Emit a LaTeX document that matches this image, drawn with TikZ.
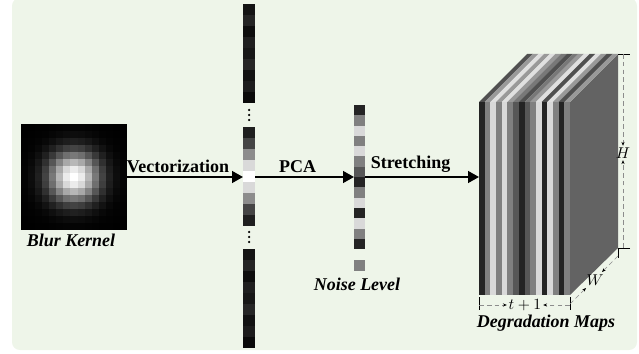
\documentclass[tikz,border=0pt]{standalone}
\usepackage{fontspec}
\setmainfont{Liberation Serif}
\usepackage{tikz}
\usetikzlibrary{arrows.meta, calc, positioning}
\tikzset{>=stealth}
\definecolor{panel}{RGB}{238,245,233}
\colorlet{dk}{black!86}
\colorlet{dg}{black!66}
\colorlet{md}{black!50}
\colorlet{lt}{black!15}
\tikzset{
	caption/.style={font=\fontsize{11.5}{13}\selectfont\bfseries\itshape},
	oplabel/.style={font=\fontsize{11.5}{13}\selectfont\bfseries, above, inner sep=2pt},
	flow/.style={line width=1.3pt, -{Triangle[length=7pt,width=7.5pt]}},
	dimline/.style={densely dashed, black!45, thin, -{Stealth[length=2.5pt,width=2pt,black]}},
	dimlabel/.style={font=\fontsize{10}{11}\selectfont, inner sep=1pt},
	holder/.style={inner sep=0pt, outer sep=0pt}
}

\begin{document}
\begin{tikzpicture}[x=0.64pt, y=-0.64pt]
	\useasboundingbox (0,0) rectangle (639,354);
	\fill[panel, rounded corners=5pt] (12,-2) rectangle (637,350);

	% blur kernel
	\node[holder, minimum width=67.84pt, minimum height=67.84pt] (kernel) at (74,177) {};
	\foreach \i in {0,...,14}{
		\foreach \j in {0,...,14}{
			\pgfmathsetmacro\lev{100*exp(-((\i-7)^2+(\j-7)^2)/12)}
			\fill[white!\lev!black] ({21+\i*106/15},{124+\j*106/15}) rectangle ++(7.2,7.2);
		}
	}
	\node[caption] (kcap) at (71,240) {Blur Kernel};

	% vectorized kernel
	\node[holder, minimum width=7.68pt, minimum height=63.36pt] (vec) at (249,177) {};
	\foreach \c [count=\k from 0] in {black!92,black!86,black!95,black!88,black!91,black!85,black!93,black!89,black!96}{
		\fill[\c] (243,{4+\k*11}) rectangle ++(12,11);
		\fill[\c] (243,{249+\k*11}) rectangle ++(12,11);
	}
	\foreach \c [count=\k from 0] in {black!88,black!73,black!45,black!15,white,black!15,black!45,black!73,black!88}{
		\fill[\c] (243,{127.5+\k*11}) rectangle ++(12,11);
	}
	\foreach \d in {110,115,120,232,237,242}
		\fill (249,\d) circle (0.8pt);

	% noise level
	\node[holder, minimum width=7.04pt, minimum height=92.2pt] (noise) at (359.5,177) {};
	\foreach \c [count=\k from 0] in {dk,md,lt,md,lt,md,dg,dk,md,lt,dk,lt,md,dk}{
		\fill[\c] (354,{105+\k*10.3}) rectangle ++(11,10.3);
	}
	\fill[md] (354,260) rectangle (365,271);
	\node[caption] (ncap) at (357,284) {Noise Level};

	% degradation maps
	\node[holder, minimum width=58.24pt, minimum height=123.5pt] (front) at (524.5,198.5) {};
	\fill[black!61] (front.north east) -- ++(48,-48) -- ++(0,194) -- (front.south east) -- cycle;
	\foreach \c [count=\k from 0] in {dk,md,lt,md,lt,md,dg,dk,dg,md,lt,dk,lt,md,dk,md}{
		\fill[\c] ({479+\k*91/16},102) rectangle ++({91/16+0.2},193);
		\fill[\c!80!white] ({479+\k*91/16},102) -- ++(48,-48) -- ++({91/16+0.2},0) -- ++(-48,48) -- cycle;
	}
	\node[caption] (dcap) at (546,323) {Degradation Maps};

	% connectors
	\draw[flow] (kernel.east) -- (vec.west) node[oplabel, pos=0.44] {Vectorization};
	\draw[flow] (vec.east) -- (noise.west) node[oplabel, pos=0.43] {PCA};
	\draw[flow] (noise.east) -- (noise.east -| front.west) node[oplabel, pos=0.4] {Stretching};

	% dimensions
	\draw (618,54) -- (630,54);
	\draw (630,248) -- (618,248) -- (618,258);
	\draw (479,297) -- (479,310);
	\draw (570,297) -- (570,310);
	\node[dimlabel] (hlab) at (623,153) {$H$};
	\draw[dimline] (623,54) -- (hlab.north);
	\draw[dimline] (623,248) -- (hlab.south);
	\node[dimlabel] (tlab) at (525,305) {$t+1$};
	\draw[dimline] (479,305) -- (tlab.west);
	\draw[dimline] (570,305) -- (tlab.east);
	\node[dimlabel] (wlab) at (595,280) {$W$};
	\draw[dimline] (570,304) -- (586,288);
	\draw[dimline] (618,256) -- (602,272);
\end{tikzpicture}
\end{document}
